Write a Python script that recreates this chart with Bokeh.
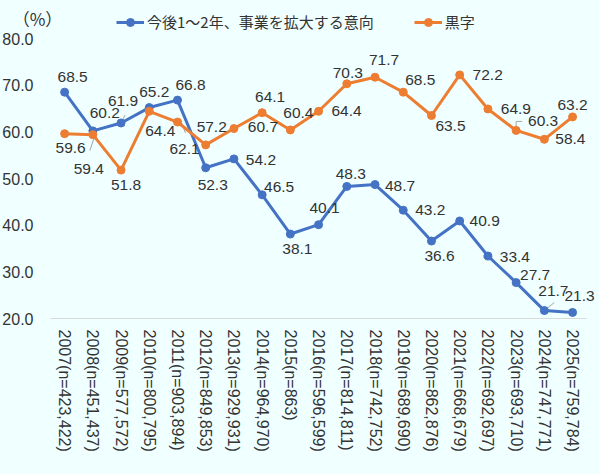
from bokeh.plotting import figure
from bokeh.models import (ColumnDataSource, Range1d, FixedTicker, NumeralTickFormatter,
                          LabelSet, Label, Legend, LegendItem)
from bokeh.core.properties import value
from bokeh.embed import file_html
from bokeh.resources import INLINE

# ---------------- data ----------------
categories = ["2007(n=423,422)", "2008(n=451,437)", "2009(n=577,572)", "2010(n=800,795)",
              "2011(n=903,894)", "2012(n=849,853)", "2013(n=929,931)", "2014(n=964,970)",
              "2015(n=863)", "2016(n=596,599)", "2017(n=814,811)", "2018(n=742,752)",
              "2019(n=689,690)", "2020(n=862,876)", "2021(n=668,679)", "2022(n=692,697)",
              "2023(n=693,710)", "2024(n=747,771)", "2025(n=759,784)"]
expand = [68.5, 60.2, 61.9, 65.2, 66.8, 52.3, 54.2, 46.5, 38.1, 40.1, 48.3, 48.7,
          43.2, 36.6, 40.9, 33.4, 27.7, 21.7, 21.3]
profit = [59.6, 59.4, 51.8, 64.4, 62.1, 57.2, 60.7, 64.1, 60.4, 64.4, 70.3, 71.7,
          68.5, 63.5, 72.2, 64.9, 60.3, 58.4, 63.2]
y_ticks = [20, 30, 40, 50, 60, 70, 80]
series_names = ["今後1～2年、事業を拡大する意向", "黒字"]
unit_label = "（%）"

# ---------------- label placement (screen px: right, down) ----------------
blue_dx = [8, 12, 2, 5, 13, 7, 27, 17, 7, 6, 4, 25, 27, 8, 25, 27, 19, 9, 7]
blue_dy = [-15, -18, -22, -16, -15, 17, 1, -8, 15, -17, -12, 1, 0, 15, 0, 1, -8, -20, -16]
orange_dx = [6, -4, 5, 11, 7, 6, 29, 8, 8, 28, 1, 9, 17, 19, 28, 28, 27, 26, 0]
orange_dy = [14, 34, 15, 20, 27, -18, -2, -16, -17, 0, -11, -17, -12, 10, 0, 0, -9, 0, -12]

BLUE = "#4472C4"
ORANGE = "#ED7D31"
BG = "#F0FFFF"
TXT = "#333333"
NUM_FONT = "Liberation Sans"
JP_FONT = "Noto Sans CJK JP"

W, H = 599, 474
AXIS_X = 50               # pixel column of the y axis / left end of the x axis
AXIS_Y = 318              # pixel row of the x axis (value 20)
PX_PER_X = 28.22          # pixels per category slot
PX_PER_Y = 280.0 / 60.0   # pixels per percent point

xs = list(range(len(categories)))
src = ColumnDataSource(dict(
    x=xs, expand=expand, profit=profit,
    expand_txt=[f"{v:.1f}" for v in expand],
    profit_txt=[f"{v:.1f}" for v in profit],
    bdx=blue_dx, bdy=[-d for d in blue_dy],
    odx=orange_dx, ody=[-d for d in orange_dy],
))

x_start = -0.5 - AXIS_X / PX_PER_X
x_end = x_start + W / PX_PER_X
y_start = y_ticks[0] - (H - AXIS_Y) / PX_PER_Y
y_end = y_ticks[0] + AXIS_Y / PX_PER_Y

p = figure(x_range=Range1d(x_start, x_end), y_range=Range1d(y_start, y_end),
           width=W, height=H, output_backend="svg", toolbar_location=None,
           min_border_left=0, min_border_right=0, min_border_top=0, min_border_bottom=0)
p.background_fill_color = BG
p.border_fill_color = BG
p.outline_line_color = None
p.xgrid.grid_line_color = None
p.ygrid.grid_line_color = None

# y axis, drawn inside the frame at the left end of the category axis
p.yaxis.fixed_location = -0.5
p.yaxis.bounds = (y_ticks[0], y_ticks[-1])
p.yaxis.ticker = FixedTicker(ticks=y_ticks)
p.yaxis.formatter = NumeralTickFormatter(format="0.0")
p.yaxis.axis_line_color = None
p.yaxis.major_tick_line_color = None
p.yaxis.minor_tick_line_color = None
p.yaxis.major_tick_out = 0
p.yaxis.major_tick_in = 0
p.yaxis.major_label_standoff = 17
p.yaxis.major_label_text_font = NUM_FONT
p.yaxis.major_label_text_font_size = "16px"
p.yaxis.major_label_text_color = TXT

# x axis, drawn inside the frame at value 20
p.xaxis.fixed_location = y_ticks[0]
p.xaxis.ticker = FixedTicker(ticks=xs)
p.xaxis.major_label_overrides = {i: c for i, c in zip(xs, categories)}
p.xaxis.bounds = (-0.5, len(categories) - 0.5)
p.xaxis.axis_line_color = "#D9D9D9"
p.xaxis.axis_line_width = 1
p.xaxis.major_tick_line_color = None
p.xaxis.minor_tick_line_color = None
p.xaxis.major_tick_out = 0
p.xaxis.major_tick_in = 0
p.xaxis.major_label_orientation = "vertical"
p.xaxis.major_label_standoff = 11
p.xaxis.major_label_text_font = NUM_FONT
p.xaxis.major_label_text_font_size = "16px"
p.xaxis.major_label_text_color = TXT

# leader lines (point index, series values, [(dx_px, dy_px), ...])
leaders = [
    (1, profit, [(-3, 16), (1, 4)]),
    (2, expand, [(2, -4), (4, -8)]),
    (4, profit, [(3, -2), (8, 11)]),
    (16, profit, [(0, -3), (0, -9), (6, -9)]),
    (17, expand, [(1, -1), (10, -8)]),
]
for i, series, pts in leaders:
    lx = [xs[i] + dx / PX_PER_X for dx, dy in pts]
    ly = [series[i] - dy / PX_PER_Y for dx, dy in pts]
    p.line(x=lx, y=ly, line_color="#A6A6A6", line_width=1)

bl = p.line(x="x", y="expand", source=src, line_color=BLUE, line_width=3)
bm = p.scatter(x="x", y="expand", source=src, size=8, fill_color=BLUE, line_color=BLUE)
ol = p.line(x="x", y="profit", source=src, line_color=ORANGE, line_width=3)
om = p.scatter(x="x", y="profit", source=src, size=8, fill_color=ORANGE, line_color=ORANGE)

for txt, ycol, dxcol, dycol in [("expand_txt", "expand", "bdx", "bdy"),
                                ("profit_txt", "profit", "odx", "ody")]:
    ls = LabelSet(x="x", y=ycol, text=txt, source=src, x_offset=dxcol, y_offset=dycol,
                  text_align="center", text_baseline="middle",
                  text_font=value(NUM_FONT), text_font_size=value("15.5px"),
                  text_color=TXT)
    p.add_layout(ls)

legend = Legend(items=[LegendItem(label=series_names[0], renderers=[bl, bm]),
                       LegendItem(label=series_names[1], renderers=[ol, om])],
                orientation="horizontal", location=(116, H - 32),
                padding=0, margin=0, spacing=40, glyph_width=28, glyph_height=20,
                label_standoff=3, label_height=20,
                label_text_font=JP_FONT, label_text_font_size="15px",
                label_text_color=TXT, background_fill_alpha=0, border_line_color=None)
p.add_layout(legend, "center")

# unit label at the top-left corner
p.add_layout(Label(x=x_start + 37 / PX_PER_X, y=y_ticks[0] + (AXIS_Y - 18) / PX_PER_Y,
                   text=unit_label, text_align="center", text_baseline="middle",
                   text_font=JP_FONT, text_font_size="17px", text_color=TXT))

html = file_html(p, INLINE)
html = html.replace("<head>", "<head><style>body{background:%s;}</style>" % BG, 1)
open("out.html", "w").write(html)
